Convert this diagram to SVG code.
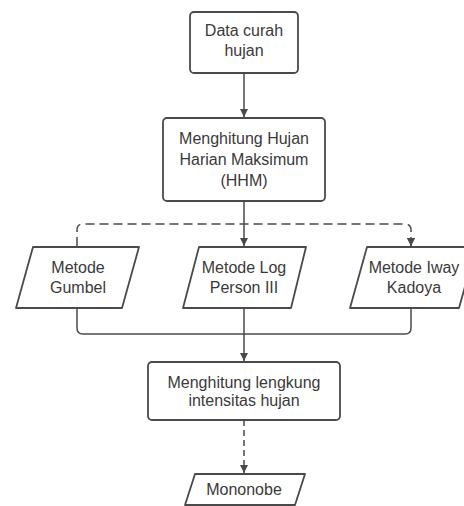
<svg xmlns="http://www.w3.org/2000/svg" width="464" height="506" viewBox="0 0 464 506">
<style>
.box{fill:#fff;stroke:#4a4a4a;stroke-width:1.8;stroke-linejoin:round}
.t{font-family:"Liberation Sans",Arial,sans-serif;font-size:16px;fill:#3a3a3a;text-anchor:middle}
.ln{fill:none;stroke:#4a4a4a;stroke-width:1.5}
.dash{stroke-dasharray:9 5}
</style>
<defs>
<marker id="ah" viewBox="0 0 10 10" refX="10" refY="5" markerWidth="8" markerHeight="8" markerUnits="userSpaceOnUse" orient="auto">
<path d="M0,0 L10,5 L0,10 z" fill="#4a4a4a"/>
</marker>
</defs>
<rect width="464" height="506" fill="#fff"/>
<g id="connectors">
<path class="ln" d="M244,73 V117" marker-end="url(#ah)"/>
<path class="ln" d="M244,201 V246" marker-end="url(#ah)"/>
<path class="ln dash" d="M77,246 V230 Q77,224 83,224 H405 Q411,224 411,230 V246" marker-end="url(#ah)"/>
<path class="ln dash" d="M411,240 V246" marker-end="url(#ah)"/>
<path class="ln" d="M77,308 V328 Q77,334 83,334 H405 Q411,334 411,328 V308"/>
<path class="ln" d="M244,308 V361" marker-end="url(#ah)"/>
<path class="ln dash" d="M244,420 V473" marker-end="url(#ah)" style="stroke-dasharray:6 4"/>
</g>
<g id="data-curah-hujan">
<rect class="box" x="190" y="12" width="108" height="61" rx="4"/>
<text class="t" x="244" y="36">Data curah</text>
<text class="t" x="244" y="56">hujan</text>
</g>
<g id="hhm">
<rect class="box" x="163" y="118" width="162" height="83" rx="4"/>
<text class="t" x="244" y="144">Menghitung Hujan</text>
<text class="t" x="244" y="165">Harian Maksimum</text>
<text class="t" x="244" y="186">(HHM)</text>
</g>
<g id="gumbel">
<polygon class="box" points="33,247 139,247 122,308 16,308"/>
<text class="t" x="78" y="273">Metode</text>
<text class="t" x="78" y="293">Gumbel</text>
</g>
<g id="log-person">
<polygon class="box" points="199,247 306,247 291,308 183,308"/>
<text class="t" x="244" y="273">Metode Log</text>
<text class="t" x="244" y="293">Person III</text>
</g>
<g id="iway-kadoya">
<polygon class="box" points="367,247 476,247 459,308 350,308"/>
<text class="t" x="414" y="273">Metode Iway</text>
<text class="t" x="414" y="293">Kadoya</text>
</g>
<g id="lengkung">
<rect class="box" x="148" y="362" width="192" height="58" rx="4"/>
<text class="t" x="244" y="388">Menghitung lengkung</text>
<text class="t" x="244" y="406">intensitas hujan</text>
</g>
<g id="mononobe">
<polygon class="box" points="195,474 305,474 295,505 185,505"/>
<text class="t" x="244" y="495">Mononobe</text>
</g>
</svg>
